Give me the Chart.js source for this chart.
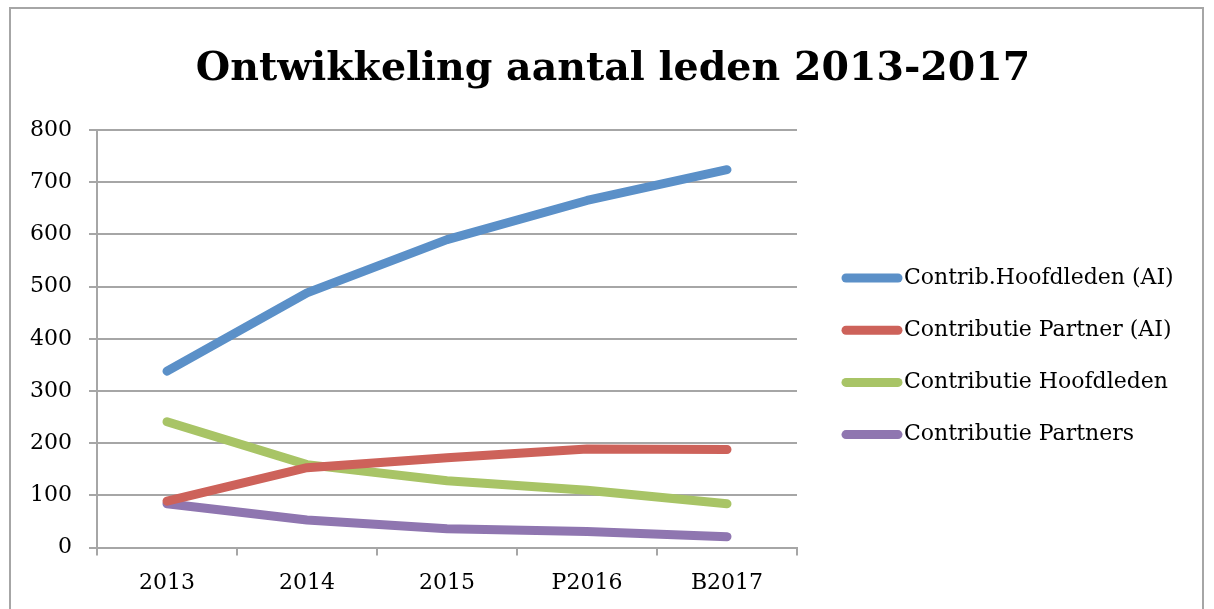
<!DOCTYPE html>
<html>
<head>
<meta charset="utf-8">
<script src="https://cdn.jsdelivr.net/npm/chart.js@4.4.1/dist/chart.umd.min.js"></script>
<style>
  body { margin: 0; background: #fff; }
  #frame { position: absolute; left: 9px; top: 7px; width: 1191px; height: 640px; border: 2px solid #a6a6a6; }
  #box { position: relative; width: 1191px; height: 600px; }
</style>
</head>
<body>
<div id="frame"><div id="box"><canvas id="line-chart"></canvas></div></div>
<script>
// waarden
const jaren = ['2013', '2014', '2015', 'P2016', 'B2017'];
const hoofdledenAI = [338, 488, 590, 665, 724];
const partnerAI = [89, 153, 172, 189, 188];
const hoofdleden = [241, 159, 128, 110, 84];
const partners = [84, 53, 36, 31, 21];

const serif = 'DejaVu Serif';

function lijn(label, data, kleur) {
    return {
        label: label,
        data: data,
        borderColor: kleur,
        backgroundColor: kleur,
        borderWidth: 9,
        borderCapStyle: 'round',
        borderJoinStyle: 'round',
        tension: 0,
        pointRadius: 0,
        fill: false
    };
}

// legenda rechts naast de grafiek (de ingebouwde legenda wordt te smal)
const legende = {
    id: 'legende',
    afterDraw(chart) {
        const c = chart.ctx;
        const x0 = chart.chartArea.right + 49;
        const y0 = chart.chartArea.top + 148;
        c.save();
        c.font = '22px "' + serif + '"';
        c.textBaseline = 'middle';
        c.textAlign = 'left';
        chart.data.datasets.forEach((ds, i) => {
            const y = y0 + i * 52.2;
            c.strokeStyle = ds.borderColor;
            c.lineWidth = 9;
            c.lineCap = 'round';
            c.beginPath();
            c.moveTo(x0, y);
            c.lineTo(x0 + 52, y);
            c.stroke();
            c.fillStyle = '#000';
            c.fillText(ds.label, x0 + 58, y);
        });
        c.restore();
    }
};

const ctx = document.getElementById('line-chart');
const chart = new Chart(ctx, {
    type: 'line',
    data: {
        labels: jaren,
        datasets: [
            lijn('Contrib.Hoofdleden (AI)', hoofdledenAI, '#5b90c8'),
            lijn('Contributie Partner (AI)', partnerAI, '#cd625a'),
            lijn('Contributie Hoofdleden', hoofdleden, '#a8c466'),
            lijn('Contributie Partners', partners, '#8f76b0')
        ]
    },
    plugins: [legende],
    options: {
        responsive: true,
        maintainAspectRatio: false,
        animation: false,
        layout: {
            padding: { top: 10, left: 2, right: -11, bottom: -1 }
        },
        plugins: {
            title: {
                display: true,
                text: 'Ontwikkeling aantal leden 2013-2017',
                color: '#000',
                font: { family: serif, size: 39.5, weight: 'bold' },
                padding: { top: 27, bottom: 36.6 }
            },
            legend: { display: false },
            tooltip: { enabled: false }
        },
        scales: {
            x: {
                offset: true,
                grid: {
                    display: true,
                    offset: true,
                    drawOnChartArea: false,
                    drawTicks: true,
                    tickLength: 8,
                    color: '#a6a6a6',
                    lineWidth: 2
                },
                border: { color: '#a6a6a6', width: 2 },
                ticks: {
                    color: '#000',
                    padding: 14,
                    font: { family: serif, size: 22 }
                }
            },
            y: {
                min: 0,
                max: 800,
                grid: {
                    color: '#a6a6a6',
                    lineWidth: 2,
                    tickLength: 8
                },
                border: { color: '#a6a6a6', width: 2 },
                ticks: {
                    stepSize: 100,
                    color: '#000',
                    padding: 17,
                    font: { family: serif, size: 22 }
                }
            },
            // lege as: houdt ruimte vrij voor de legenda
            ruimte: {
                type: 'linear',
                axis: 'y',
                position: 'right',
                grid: { display: false },
                border: { display: false },
                ticks: { display: false },
                afterFit: s => { s.width = 416; }
            }
        }
    }
});
</script>
</body>
</html>
